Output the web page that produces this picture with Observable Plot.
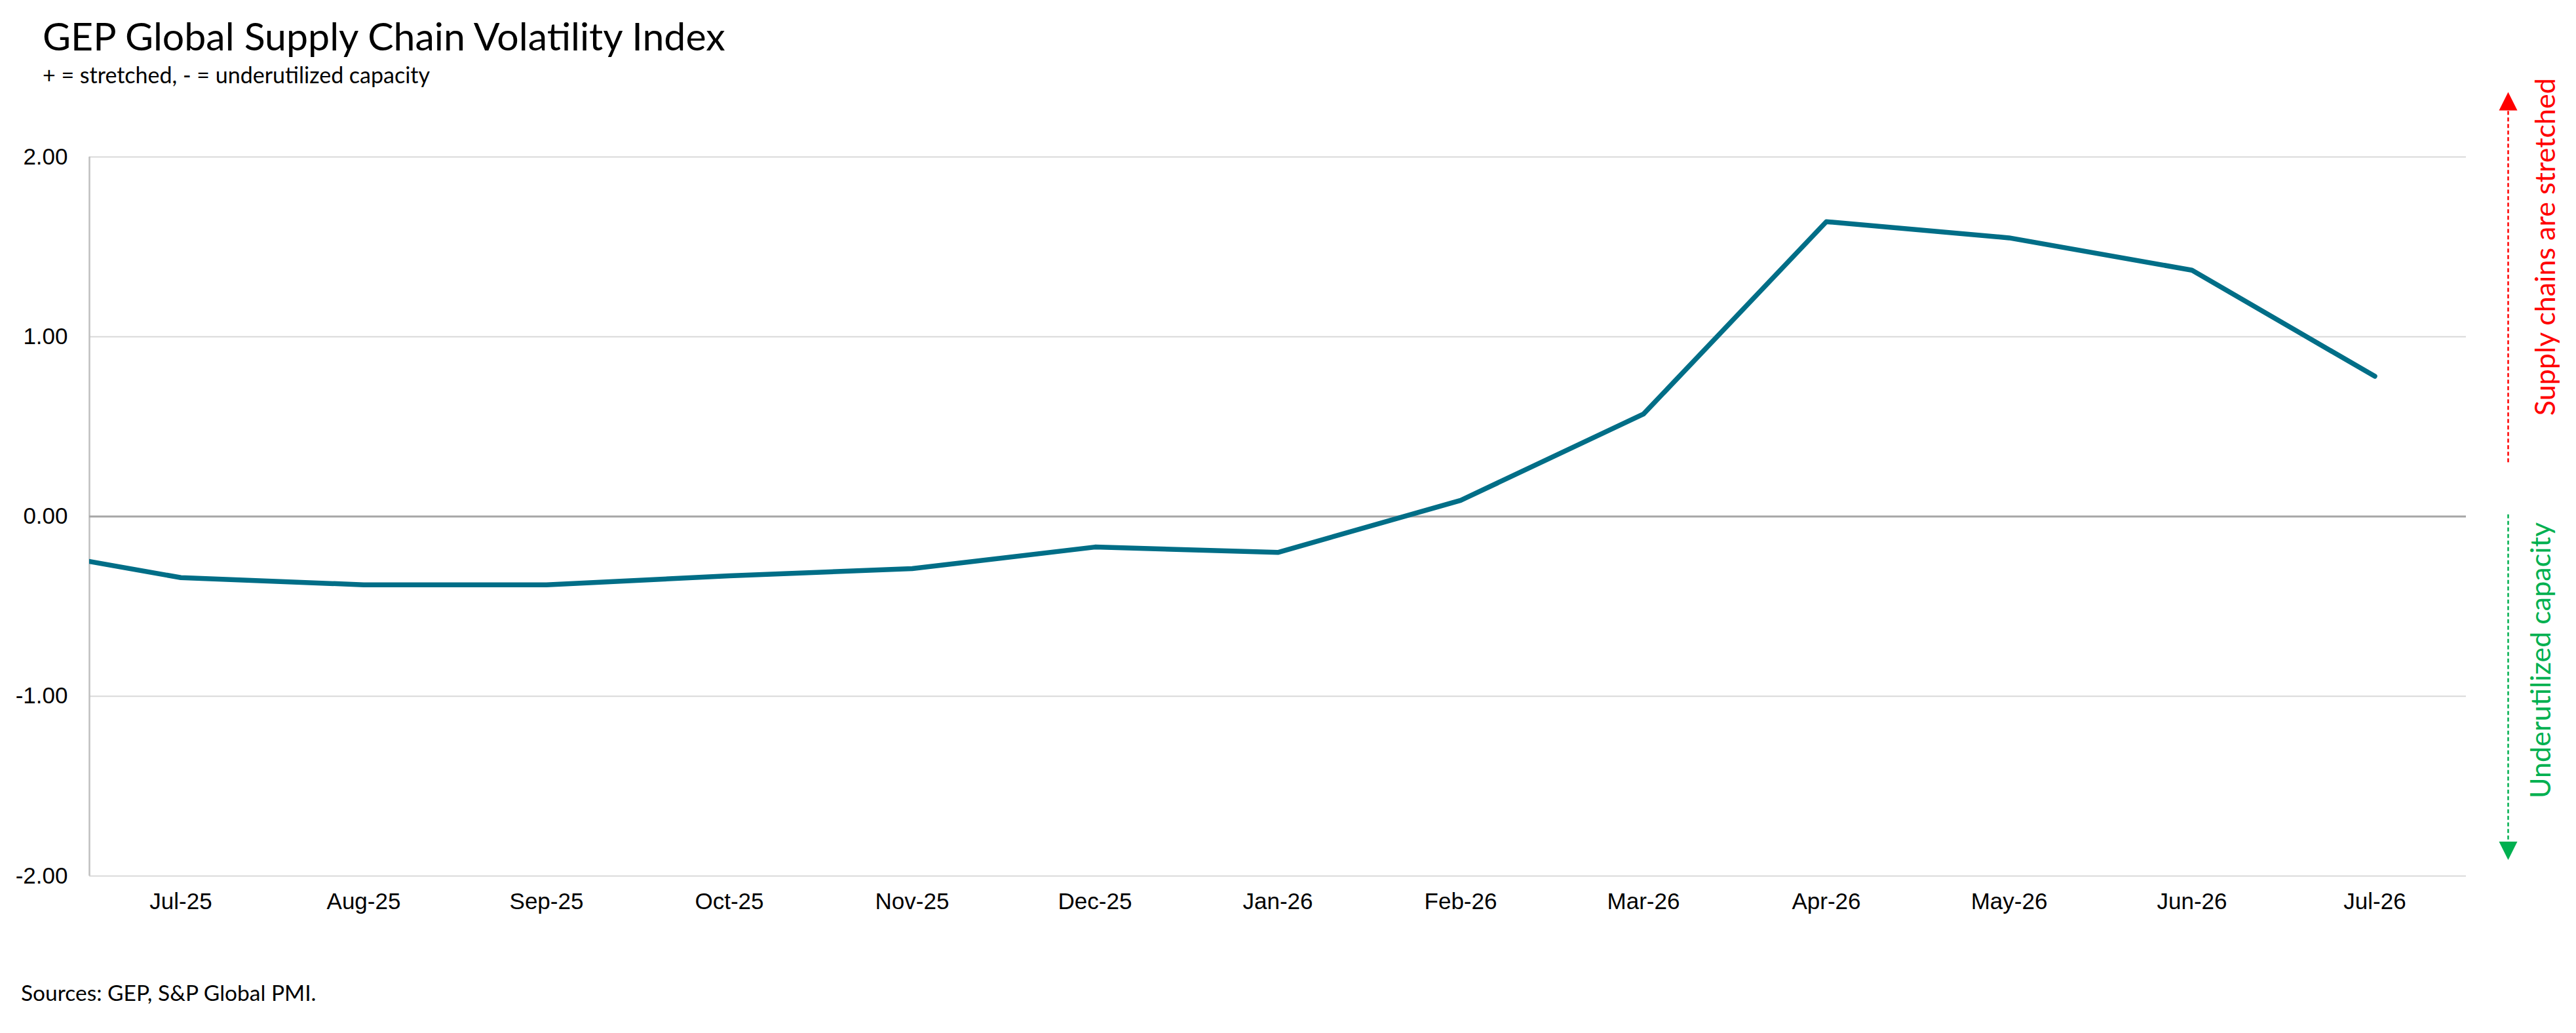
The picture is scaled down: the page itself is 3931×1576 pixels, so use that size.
<!DOCTYPE html>
<html><head><meta charset="utf-8">
<script src="https://cdn.jsdelivr.net/npm/d3@7"></script>
<script src="https://cdn.jsdelivr.net/npm/@observablehq/plot@0.6"></script>
<style>
html,body{margin:0;padding:0;background:#fff;}
#wrap{position:relative;width:3931px;height:1576px;overflow:hidden;background:#fff;}
#wrap svg{position:absolute;left:0;top:0;}
.t{position:absolute;font-family:Lato, "Open Sans", sans-serif;color:#000;white-space:nowrap;line-height:1.2;}
</style></head><body>
<div id="wrap">
<div class="t" id="title" style="left:65px;top:20px;font-size:59px;">GEP Global Supply Chain Volatility Index</div>
<div class="t" id="sub" style="left:65px;top:94px;font-size:34px;">+ = stretched, - = underutilized capacity</div>
<div class="t" id="cap" style="left:32px;top:1494px;font-size:33.5px;">Sources: GEP, S&amp;P Global PMI.</div>
</div>
<script>
// Months (Jun-25 lies just left of the visible range; the line is clipped at the axis)
const months = ["Jun-25","Jul-25","Aug-25","Sep-25","Oct-25","Nov-25","Dec-25","Jan-26","Feb-26","Mar-26","Apr-26","May-26","Jun-26","Jul-26"];
const values = [-0.16, -0.34, -0.38, -0.38, -0.33, -0.29, -0.17, -0.20, 0.09, 0.57, 1.64, 1.55, 1.37, 0.78];
const yTicks = [-2, -1, 0, 1, 2];
const gridTicks = [-2, -1, 1, 2];
const xTickIndex = [1,2,3,4,5,6,7,8,9,10,11,12,13];
const xDomain = [0.5, 13.5];

// Right-hand annotations (in y units)
const arrowLines = [
  {y1: 0.30, y2: 2.27, color: "#ff0000"},
  {y1: 0.01, y2: -1.80, color: "#00b050"}
];
const arrowHeads = [
  {y: 2.31, dir: "up", color: "#ff0000"},
  {y: -1.86, dir: "down", color: "#00b050"}
];
const stretchedLabel = [{label: "Supply chains are stretched", y: 1.50, color: "#ff0000"}];
const underLabel = [{label: "Underutilized capacity", y: -0.80, color: "#00b050"}];

const data = months.map((m, i) => ({i, month: m, v: values[i]}));

const triUp = {draw(ctx) { ctx.moveTo(0, -14); ctx.lineTo(14, 14); ctx.lineTo(-14, 14); ctx.closePath(); }};
const triDown = {draw(ctx) { ctx.moveTo(0, 14); ctx.lineTo(14, -14); ctx.lineTo(-14, -14); ctx.closePath(); }};

const chart = Plot.plot({
  width: 3931,
  height: 1576,
  marginLeft: 136,
  marginRight: 168,
  marginTop: 239,
  marginBottom: 240,
  style: {fontFamily: "'Liberation Sans', Arial, sans-serif", fontSize: "35px", color: "#000", background: "#fff"},
  x: {type: "linear", domain: xDomain, axis: null},
  y: {domain: [-2, 2], axis: null},
  marks: [
    Plot.ruleY(gridTicks, {stroke: "#d9d9d9", strokeWidth: 2}),
    Plot.ruleX([xDomain[0]], {stroke: "#bfbfbf", strokeWidth: 2.5}),
    Plot.ruleY([0], {stroke: "#a6a6a6", strokeWidth: 3}),
    Plot.lineY(data, {x: "i", y: "v", stroke: "#006e87", strokeWidth: 7.5, strokeLinejoin: "round", clip: true}),
    Plot.axisY(yTicks, {tickSize: 0, tickPadding: 33, tickFormat: d => d.toFixed(2), fontSize: 35, label: null}),
    Plot.axisX(xTickIndex, {tickSize: 0, tickPadding: 26, tickFormat: i => months[i], fontSize: 35, label: null}),
    Plot.ruleX(arrowLines, {x: () => xDomain[1], dx: 64, y1: "y1", y2: "y2", stroke: "color", strokeWidth: 2.5, strokeDasharray: "6,4"}),
    Plot.dot(arrowHeads.filter(d => d.dir === "up"), {x: () => xDomain[1], dx: 64, y: "y", fill: "color", stroke: null, symbol: triUp, r: 10}),
    Plot.dot(arrowHeads.filter(d => d.dir === "down"), {x: () => xDomain[1], dx: 64, y: "y", fill: "color", stroke: null, symbol: triDown, r: 10}),
    Plot.text(stretchedLabel, {x: () => xDomain[1], y: "y", dx: 122, text: "label", fill: "color", rotate: -90, fontSize: 43, fontFamily: "Lato, 'Open Sans', sans-serif"}),
    Plot.text(underLabel, {x: () => xDomain[1], y: "y", dx: 115, text: "label", fill: "color", rotate: -90, fontSize: 43, fontFamily: "Lato, 'Open Sans', sans-serif"})
  ]
});
const wrap = document.getElementById("wrap");
wrap.insertBefore(chart, wrap.firstChild);
</script>
</body></html>
